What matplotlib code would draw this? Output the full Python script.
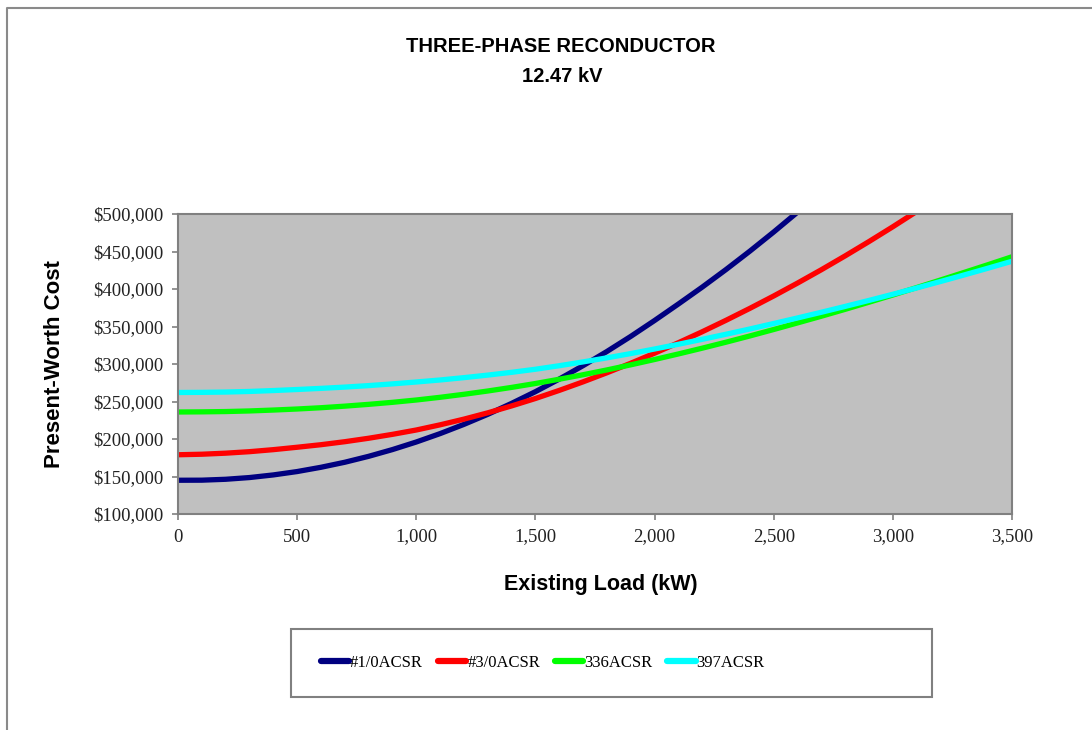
import numpy as np
import matplotlib.pyplot as plt
from matplotlib.lines import Line2D
from matplotlib.patches import Rectangle
from matplotlib.ticker import FuncFormatter, MultipleLocator

nan = np.nan

# existing load (kW), 100 kW steps
load_kw = list(range(0, 3600, 100))

# present-worth cost ($1000) for each conductor
acsr_1_0 = [145.0, 145.1, 146.3, 148.6, 152.1, 156.6, 162.3, 169.0, 176.9, 185.9,
            196.0, 207.2, 219.5, 232.9, 247.5, 263.1, 279.9, 297.8, 316.7, 336.8,
            358.0, 380.0, 402.5, 426.0, 450.5, 476.0, 502.5, 530.0,
            nan, nan, nan, nan, nan, nan, nan, nan]
acsr_3_0 = [179.0, 179.7, 181.1, 183.1, 185.8, 189.0, 192.4, 196.4, 201.0, 206.2,
            212.0, 218.9, 226.5, 234.9, 244.1, 254.0, 264.8, 276.2, 288.3, 301.0,
            314.4, 328.4, 343.0, 358.3, 374.2, 390.7, 407.9, 425.7, 444.2, 463.3,
            483.0, 503.4, 524.4, nan, nan, nan]
acsr_336 = [236.0, 236.2, 236.6, 237.4, 238.6, 240.0, 241.7, 243.8, 246.2, 248.9,
            252.0, 255.6, 259.6, 264.0, 268.8, 274.0, 279.7, 285.7, 292.1, 298.9,
            306.0, 313.4, 321.1, 329.1, 337.4, 346.0, 354.8, 363.7, 372.9, 382.4,
            392.0, 401.9, 412.0, 422.2, 432.5, 443.0]
acsr_397 = [262.0, 262.2, 262.6, 263.4, 264.6, 266.0, 267.5, 269.2, 271.2, 273.5,
            276.0, 278.7, 281.8, 285.2, 288.9, 293.0, 297.7, 302.8, 308.2, 313.9,
            320.0, 326.3, 332.9, 339.7, 346.7, 354.0, 361.4, 369.0, 376.8, 384.8,
            393.0, 401.4, 410.0, 418.8, 427.8, 437.0]

names = ['#1/0ACSR', '#3/0ACSR', '336ACSR', '397ACSR']
colors = ['#000080', '#FF0000', '#00FF00', '#00FFFF']

W, H = 1092, 730
fig = plt.figure(figsize=(W / 100, H / 100), dpi=100)
ax = fig.add_axes([178 / W, 1 - 514 / H, 834 / W, 300 / H])
ax.set_facecolor('#C0C0C0')

series = [acsr_1_0, acsr_3_0, acsr_336, acsr_397]
x = np.array(load_kw)
for vals, name, c in zip(series, names, colors):
    y = np.array(vals, dtype=float) * 1000
    ax.plot(x, y, color=c, lw=3.8, label=name, solid_joinstyle='round')

ax.set_xlim(0, 3500)
ax.set_ylim(100000, 500000)
ax.xaxis.set_major_locator(MultipleLocator(500))
ax.yaxis.set_major_locator(MultipleLocator(50000))
ax.xaxis.set_major_formatter(FuncFormatter(lambda v, p: f'{v:,.0f}'))
ax.yaxis.set_major_formatter(FuncFormatter(lambda v, p: f'${v:,.0f}'))

for s in ax.spines.values():
    s.set_color('#808080')
    s.set_linewidth(1.5)
ax.tick_params(direction='out', length=4.5, width=1.2, color='#808080',
               labelsize=13.5, labelcolor='#222222')
for lab in ax.get_xticklabels() + ax.get_yticklabels():
    lab.set_family('Liberation Serif')
ax.tick_params(axis='y', pad=6)
ax.tick_params(axis='x', pad=6)

ax.set_xlabel('Existing Load (kW)', fontsize=15.5, fontweight='bold',
              family='Liberation Sans')
ax.xaxis.set_label_coords(0.507, -0.2)
ax.set_ylabel('Present-Worth Cost', fontsize=16, fontweight='bold',
              family='Liberation Sans')
ax.yaxis.set_label_coords(-0.136, 0.5)

fig.text(561 / W, 1 - 46 / H, 'THREE-PHASE RECONDUCTOR', ha='center', va='center',
         fontsize=14.5, fontweight='bold', family='Liberation Sans')
fig.text(562 / W, 1 - 76 / H, '12.47 kV', ha='center', va='center',
         fontsize=14.5, fontweight='bold', family='Liberation Sans')

# outer chart frame (left and top edges)
fig.add_artist(Line2D([7 / W, 7 / W, 1], [0, 1 - 8 / H, 1 - 8 / H],
                      transform=fig.transFigure, color='#8a8a8a', lw=1.5))

# legend box
fig.add_artist(Rectangle((291 / W, 1 - 697 / H), 641 / W, 68 / H,
                         transform=fig.transFigure, facecolor='white',
                         edgecolor='#808080', lw=1.5))
leg = fig.legend(loc='center left', bbox_to_anchor=(321 / W, 1 - 663 / H),
                 ncol=4, frameon=False, handlelength=1.7, handletextpad=0.05,
                 columnspacing=0.9, borderpad=0, borderaxespad=0,
                 prop={'family': 'Liberation Serif', 'size': 12})
for h in leg.get_lines():
    h.set_linewidth(4.5)
    h.set_solid_capstyle('round')

fig.savefig('out.png', dpi=100)
